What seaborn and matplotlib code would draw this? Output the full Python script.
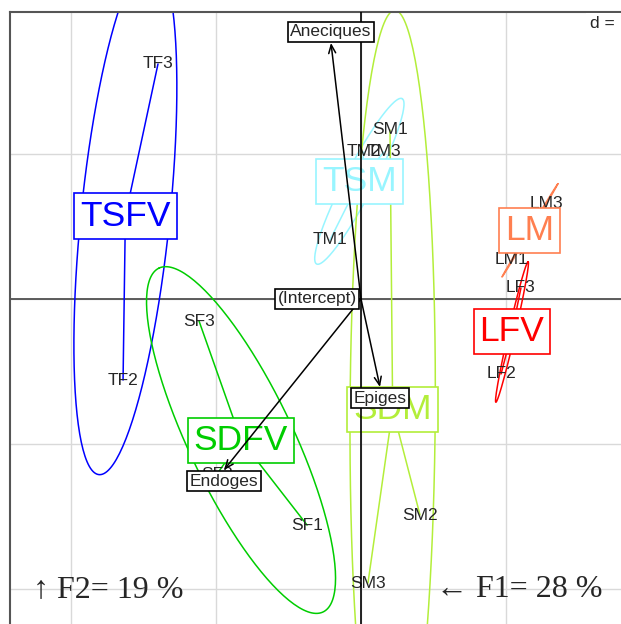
#!/usr/bin/env python3
# -*- coding: utf-8 -*-
import numpy as np
import pandas as pd
import matplotlib
matplotlib.use('Agg')
import matplotlib.pyplot as plt
import seaborn as sns

# classes and their colours
groups = ['TSFV', 'SDFV', 'TSM', 'SDM', 'LM', 'LFV']
colors = ['#0000FF', '#00CD00', '#98F5FF', '#B3EE3A', '#FF7F50', '#FF0000']

# individual scores (F1, F2), three per class
labels = ['TF1', 'TF2', 'TF3', 'SF1', 'SF2', 'SF3', 'TM1', 'TM2', 'TM3',
          'SM1', 'SM2', 'SM3', 'LM1', 'LM2', 'LM3', 'LF1', 'LF2', 'LF3']
f1 = [-1.834, -1.641, -1.400, -0.372, -0.993, -1.117, -0.214, 0.021, 0.159,
      0.200, 0.407, 0.048, 1.041, 1.179, 1.276, 1.055, 0.966, 1.103]
f2 = [0.655, -0.559, 1.621, -1.559, -1.207, -0.152, 0.407, 1.014, 1.014,
      1.166, -1.490, -1.959, 0.269, 0.490, 0.662, -0.241, -0.517, 0.076]

# variables (arrows)
var_names = ['Aneciques', 'Epiges', 'Endoges', '(Intercept)']
var_f1 = [-0.207, 0.131, -0.945, -0.303]
var_f2 = [1.766, -0.607, -1.179, 0.0]

df = pd.DataFrame({'lab': labels, 'grp': [g for g in groups for _ in range(3)],
                   'x': f1, 'y': f2})
pal = dict(zip(groups, colors))

# class centres, stars and ellipses (2 sd, population covariance)
centres = df.groupby('grp', sort=False)[['x', 'y']].mean()
t = np.linspace(0, 2 * np.pi, 200)
ell_rows, star_rows = [], []
for g in groups:
    sub = df[df.grp == g]
    cov = np.cov(sub.x, sub.y, bias=True)
    vals, vecs = np.linalg.eigh(cov)
    vals = np.clip(vals, 0, None)
    cx, cy = centres.loc[g]
    pts = (2 * np.sqrt(vals[1]) * np.outer(np.cos(t), vecs[:, 1])
           + 2 * np.sqrt(vals[0]) * np.outer(np.sin(t), vecs[:, 0]))
    for (px, py) in pts:
        ell_rows.append((g, cx + px, cy + py))
    for _, r in sub.iterrows():
        star_rows.append((g, r.lab, cx, cy))
        star_rows.append((g, r.lab, r.x, r.y))
ell = pd.DataFrame(ell_rows, columns=['grp', 'x', 'y'])
star = pd.DataFrame(star_rows, columns=['grp', 'seg', 'x', 'y'])

sns.set_style('white')
fig = plt.figure(figsize=(6.21, 6.24), dpi=100)
ax = fig.add_axes([10 / 621, (624 - 650) / 624, 623 / 621, 638 / 624])
ax.set_xlim(-2.4207, 1.8759)
ax.set_ylim(-2.4207, 1.9793)
ax.set_aspect('equal')

ax.set_xticks(np.arange(-2, 2))
ax.set_yticks(np.arange(-2, 2))
ax.tick_params(length=0, labelbottom=False, labelleft=False)
ax.grid(True, color='#D9D9D9', lw=1)
ax.set_axisbelow(True)
for s in ['right', 'bottom']:
    ax.spines[s].set_visible(False)
for s in ['top', 'left']:
    ax.spines[s].set_color('#555555')
    ax.spines[s].set_linewidth(1.5)

ax.axhline(0, color='#505050', lw=1.3, zorder=1)

sns.lineplot(data=ell, x='x', y='y', hue='grp', units='grp', estimator=None,
             sort=False, palette=pal, legend=False, lw=1.1, ax=ax, zorder=2)
sns.lineplot(data=star, x='x', y='y', hue='grp', units='seg', estimator=None,
             sort=False, palette=pal, legend=False, lw=1.1, ax=ax, zorder=2)

for _, r in df.iterrows():
    ax.text(r.x, r.y, r.lab, ha='center', va='center', fontsize=12.5,
            family='Liberation Sans', zorder=2.5)

for g in groups:
    cx, cy = centres.loc[g]
    ax.text(cx, cy, g, ha='center', va='center', fontsize=25.5, color=pal[g],
            family='Liberation Sans', zorder=3,
            bbox=dict(boxstyle='square,pad=0.17', fc='white', ec=pal[g], lw=1.2))

ax.axvline(0, color='black', lw=1.2, zorder=4)

for name, vx, vy in zip(var_names, var_f1, var_f2):
    ax.annotate('', xy=(vx, vy), xytext=(0, 0), zorder=5,
                arrowprops=dict(arrowstyle='->,head_length=0.6,head_width=0.25',
                                color='black', lw=1.1, shrinkA=0, shrinkB=0))
    ax.annotate(name, xy=(vx, vy), xytext=(0, 8 * np.sign(vy)),
                textcoords='offset points', ha='center', va='center',
                fontsize=12.5, family='Liberation Sans', zorder=6,
                bbox=dict(boxstyle='square,pad=0.14', fc='white', ec='black', lw=1.2))

fig.text(629 / 621, (624 - 24) / 624, 'd = 1', ha='right', va='center',
         fontsize=12.5, family='Liberation Sans',
         bbox=dict(boxstyle='square,pad=0.2', fc='white', ec='none'))

serif = ['Liberation Serif', 'DejaVu Serif']
fig.text(33 / 621, (624 - 597) / 624, '↑ F2= 19 %', ha='left', va='baseline',
         fontsize=23, family=serif)
fig.text(602 / 621, (624 - 597) / 624, '← F1= 28 %', ha='right', va='baseline',
         fontsize=23, family=serif)

fig.savefig('out.png', dpi=100)
